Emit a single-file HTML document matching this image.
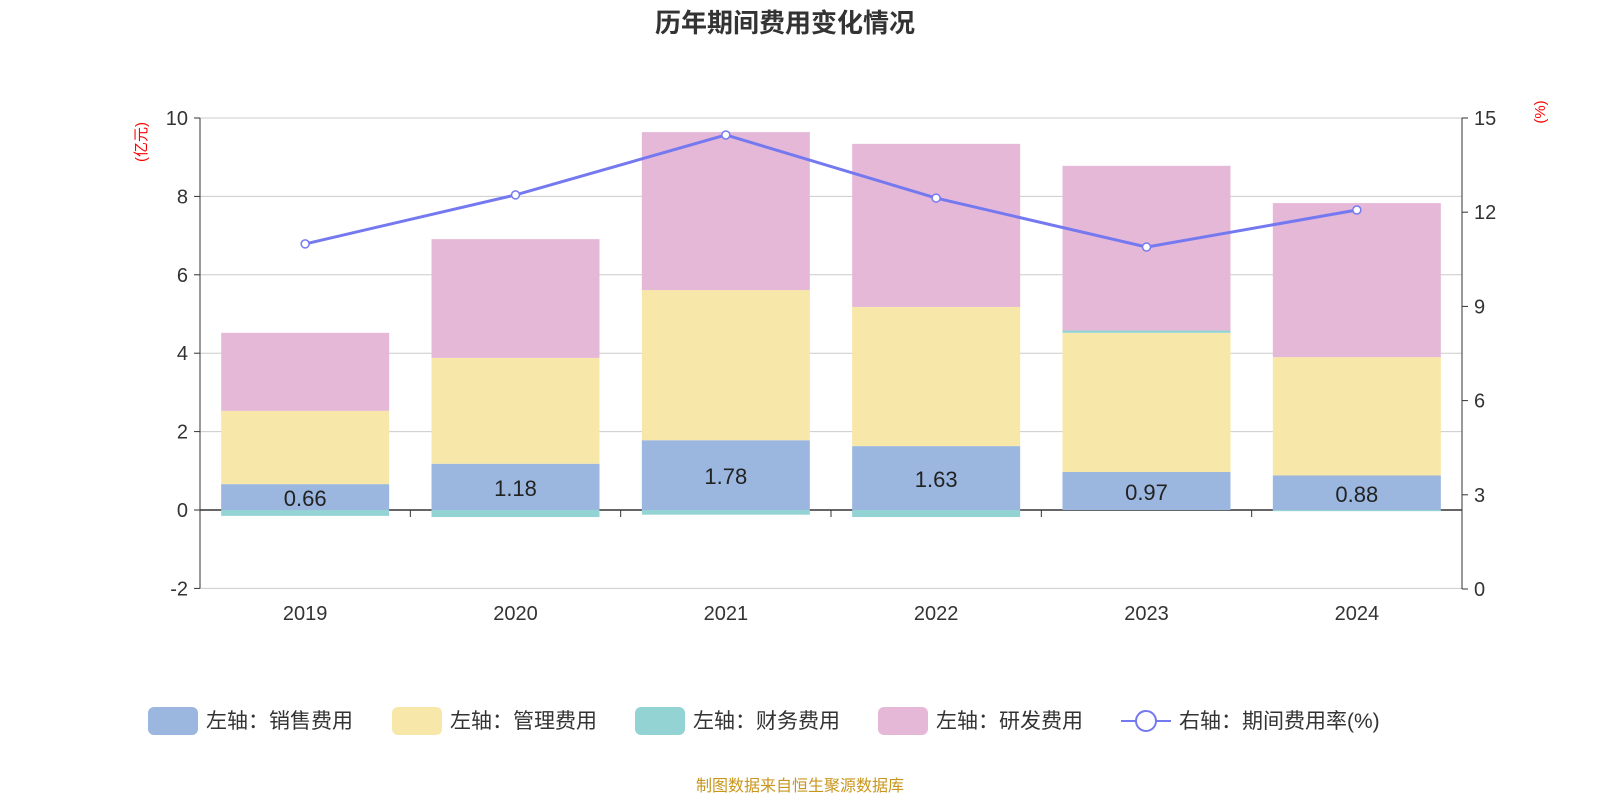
<!DOCTYPE html>
<html><head><meta charset="utf-8"><style>
body{margin:0;background:#fff;font-family:"Liberation Sans","Noto Sans CJK SC",sans-serif}
svg text{font-family:"Liberation Sans","Noto Sans CJK SC",sans-serif}
</style></head><body>
<svg id="c" width="1600" height="800">
<text x="785" y="32" text-anchor="middle" font-size="26" font-weight="bold" fill="#333">历年期间费用变化情况</text>
<text x="0" y="0" transform="translate(146,142) rotate(-90)" text-anchor="middle" font-size="15" fill="#f00">(亿元)</text>
<text x="0" y="0" transform="translate(1545,112) rotate(-90)" text-anchor="middle" font-size="15" fill="#f00">(%)</text>
<text x="800" y="791" text-anchor="middle" font-size="16" fill="#c8961e">制图数据来自恒生聚源数据库</text>
<g id="plot"></g>
<g id="legend"></g>
</svg>
<script>
const years=['2019','2020','2021','2022','2023','2024'];
const sales=[0.66,1.18,1.78,1.63,0.97,0.88];
const mgmt=[1.87,2.70,3.83,3.55,3.55,3.02];
const fin=[-0.15,-0.18,-0.12,-0.18,0.06,-0.03];
const rd=[1.99,3.03,4.03,4.16,4.20,3.93];
const rate=[10.99,12.55,14.46,12.45,10.89,12.07];
const leftTicks=[-2,0,2,4,6,8,10];
const rightTicks=[0,3,6,9,12,15];
const NS='http://www.w3.org/2000/svg';
const g=document.getElementById('plot');
const X0=200,X1=1462,bw=(X1-X0)/years.length;
const yL=v=>510-v*39.2;
const yR=v=>589-v*(471/15);
function el(t,a,p){const e=document.createElementNS(NS,t);for(const k in a)e.setAttribute(k,a[k]);(p||g).appendChild(e);return e;}
leftTicks.forEach(t=>{
 const l=el('line',{x1:X0,x2:X1,y1:yL(t),y2:yL(t),stroke:t===0?'#333':'#ccc','stroke-width':t===0?1.5:1});
 
 const tk=el('line',{x1:X0-6,x2:X0,y1:yL(t),y2:yL(t),stroke:'#333'});
 
 const tx=el('text',{x:X0-12,y:yL(t)+7,'text-anchor':'end','font-size':20,fill:'#333'});tx.textContent=t;
 
});
rightTicks.forEach(t=>{
 const tk=el('line',{x1:X1,x2:X1+6,y1:yR(t),y2:yR(t),stroke:'#333'});
 
 const tx=el('text',{x:X1+12,y:yR(t)+7,'font-size':20,fill:'#333'});tx.textContent=t;
 
});
let a=el('line',{x1:X0,x2:X0,y1:yL(10),y2:yL(-2),stroke:'#333'});
a=el('line',{x1:X1,x2:X1,y1:yR(15),y2:yR(0),stroke:'#333'});
for(let i=0;i<=years.length;i++){const t=el('line',{x1:X0+i*bw,x2:X0+i*bw,y1:510,y2:517,stroke:'#333'});}
const cols={sales:'#9bb7e0',mgmt:'#f7e7a8',fin:'#94d3d4',rd:'#e6b8d8'};
years.forEach((y,i)=>{
 const cx=X0+bw*(i+0.5),x=cx-84,w=168;
 let pos=0,neg=0;
 const draw=(v,c,n)=>{let y0,y1;if(v>=0){y0=pos;y1=pos+v;pos=y1;}else{y0=neg;y1=neg+v;neg=y1;}
  const r=el('rect',{x:x,y:Math.min(yL(y0),yL(y1)),width:w,height:Math.abs(yL(y0)-yL(y1)),fill:c});
  };
 draw(sales[i],cols.sales,'sales');draw(mgmt[i],cols.mgmt,'mgmt');draw(fin[i],cols.fin,'finance');draw(rd[i],cols.rd,'rd');
 const lb=el('text',{x:cx,y:(yL(0)+yL(sales[i]))/2+9,'text-anchor':'middle','font-size':22,fill:'#222'});lb.textContent=sales[i].toFixed(2);
 
 const xl=el('text',{x:cx,y:620,'text-anchor':'middle','font-size':20,fill:'#333'});xl.textContent=y;
 
});
const pts=rate.map((v,i)=>[X0+bw*(i+0.5),yR(v)]);
const pl=el('polyline',{points:pts.map(p=>p.join(',')).join(' '),fill:'none',stroke:'#7579f0','stroke-width':3});

pts.forEach(p=>{const c=el('circle',{cx:p[0],cy:p[1],r:4,fill:'#fff',stroke:'#7579f0','stroke-width':1.5});});
const lg=document.getElementById('legend');
const items=[['左轴：销售费用',cols.sales,148],['左轴：管理费用',cols.mgmt,392],['左轴：财务费用',cols.fin,635],['左轴：研发费用',cols.rd,878]];
items.forEach(it=>{
 const r=el('rect',{x:it[2],y:707,width:50,height:28,rx:6,fill:it[1]},lg);
 
 const t=el('text',{x:it[2]+58,y:728,'font-size':21,fill:'#333'},lg);t.textContent=it[0];
 
});
let l=el('line',{x1:1121,x2:1171,y1:721,y2:721,stroke:'#7579f0','stroke-width':2},lg);
l=el('circle',{cx:1146,cy:721,r:10,fill:'#fff',stroke:'#7579f0','stroke-width':2},lg);
l=el('text',{x:1179,y:728,'font-size':21,fill:'#333'},lg);l.textContent='右轴：期间费用率(%)';
</script>
</body></html>
